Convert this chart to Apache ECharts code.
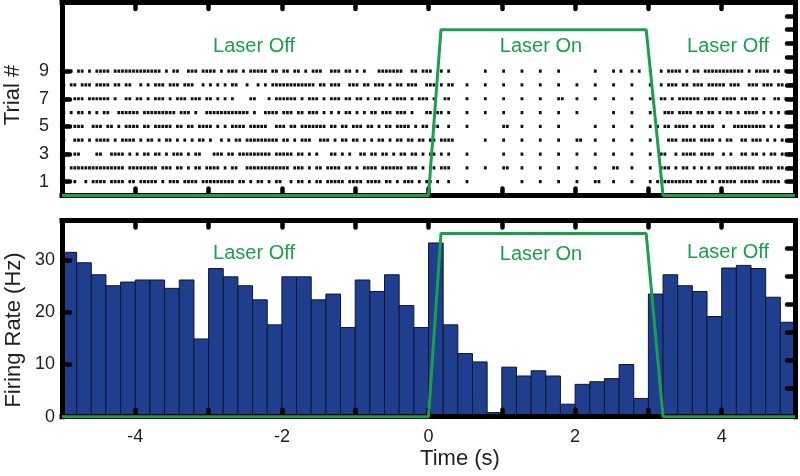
<!DOCTYPE html>
<html><head><meta charset="utf-8">
<script src="https://cdn.jsdelivr.net/npm/echarts@6/dist/echarts.min.js"></script>
<style>html,body{margin:0;padding:0;background:#fff}#c{width:800px;height:476px}</style>
</head><body><div id="c"></div>
<script>
// ---- Data ----
const binStarts = [-5,-4.8,-4.6,-4.4,-4.2,-4,-3.8,-3.6,-3.4,-3.2,-3,-2.8,-2.6,-2.4,-2.2,-2,-1.8,-1.6,-1.4,-1.2,-1,-0.8,-0.6,-0.4,-0.2,0,0.2,0.4,0.6,0.8,1,1.2,1.4,1.6,1.8,2,2.2,2.4,2.6,2.8,3,3.2,3.4,3.6,3.8,4,4.2,4.4,4.6,4.8];
const binWidth = 0.2;
const firingRate = [31.5,29.5,27.2,25.1,25.8,26.2,26.2,24.6,26.2,14.9,28.4,26.8,25.1,22.4,17.6,26.8,26.8,22.4,23.5,17.1,26.2,24.0,27.2,21.3,17.1,33.3,17.6,12.1,10.5,0.8,9.5,7.8,8.8,7.8,2.4,6.2,6.7,7.3,10.0,3.5,23.5,27.2,25.1,24.0,19.2,28.5,29.0,28.4,22.9,18.1];

const laserTimes = [-5, 0, 0.17, 2.97, 3.2, 5];
const laserRaster = [0, 0, 12, 12, 0, 0];
const laserRate = [0, 0, 35.1, 35.1, 0, 0];

const xTickLabels = [-4, -2, 0, 2, 4];
const trialTickLabels = [1, 3, 5, 7, 9];
const rateTickLabels = [0, 10, 20, 30];

// Raster: each trial = segments of a 0.05 s grid ('x' = spike) starting at these grid indices
const rasterStart = -5, rasterStep = 0.05;
const segmentStarts = [0, 40, 80, 105, 160];
const raster1 = ["xx-x--x-xxxx-xxxx-xx-xxxxx-x-xxx-xxxx-xx","xxxxxxx-xx-x-xx-x-xx--x-xx-x-xx-xxxxx-xx","xx-xxxx-xx-x-xxx-x-xx-x--","x----x--------------x----x----x----x----xx---x----x----","x-xxxxxxxxxx-xxx-x-xxxxx-xxxxx-xxxxx-xxx"];
const raster2 = ["x-xxxxxxxxxxxxxxx-xxxxxxxx-xxx-xx-x-xx-x","xxx-x-xx--xxxxxxxxxxxx-xxx-x-xx-xxxx-xx-","x-xxxx-xxxxxx-xxx-x-xx-xx","x----x----x----xx---x----x----x----x----x----xx---x----","x--xxx-x-xx-x-x-x-xx-xxxxxxxx-xxxx-xx-xx"];
const raster3 = ["xx-xx----xx--xxxx-x-x-xx-xx-x-xxx-x-xx--","-xxx-xx-xxxxxxxxx-xxxxx-xx-x-x---xx-x-x-","-xx-xx-xx-x-xx-xx-x-xx-x-","x----x---------x----x----x----x----x----x----x----x----","x--xx--x-xxxx-xxxx--x-x--xx-xx-x-xx-xxxx"];
const raster4 = ["x--xxx-x-xxxx-x-xxxx-x-xx-x-xx-x-x-x-xx-","x--x-x-xx-xxxxxxxxx-xx-x-xxx--xxx-x-xx-x","x-x-x-xx-x-xx-xx-xx-xx-xx","xx--------x----x----x----x----x----xx---x----x----x----","x----xxx-xxxx-xxxx-x-xx--xx-xxx-x-x-x-xx"];
const raster5 = ["xx-xxx--xxx-xx-x-xxxx-xx-xxxxx-xx-xx-xxx","x-x-x-xxxx-xxxxx--xxx-xx-xxxxxxx-xx-xx-x","xx-xx-x-xx-xxxx-x-xx-xx--","x----x---------xx---x----x----x---------x----x----x----","x-x-xx-xxxx-x-xxxx--x--xxxxxxxxx-x-x-xxx"];
const raster6 = ["x-x-xx-x-x-xx--xxxxxx-xxxxxxxxx-xxx-x--x","xxxxxxxxxxx-x--xxxx-xxx-xx-xxx-x-x-x-xx-","x-x-xx-xxx-xxx-x---xx-xx-","x----x----x----x----x----x----x----x---------x----x----","x---xxx-xxxx-xx-xx-x-xx-x-xxxx-x-x-x-x-x"];
const raster7 = ["xx-xxx-xxxxxx-x--xx-xx-x-xxx-x-xxx-xxx-x","x-x-x-x----xx---x-xxxxxx-x-xxx-x-xxx-xx-","xx-x-xx-x-xxxx-x-xxx-x--x","x----x----x----x----x----x----xx---x----x----x----x----","x--xx-x-xxxxxx-xxxx-xxxx-xx-xx-x--xx-x-x"];
const raster8 = ["x-xx-xxx-xxxx-xx-xx--x-x-xxx-xxx-xxx--x-","x-x-x-xx--x--x-x-xxxxxxxxxxxx-xx-xxx--xx","x-xx-xxx-x-xx-xxx--xxx-x-","xx---x----x----x----x----x----x----x----x----x----x----","x--x-xxx-xx-xxx-xxxxx-xxx--xxx-xxx-xx-xx"];
const raster9 = ["x-x-xx-x-xxxx-xxxxxxxxxxxxx-x-xx--xxx-xx","xx-x-xxx-x-xxxxx-xx-xx-xx-x-xxx--xxx-xx-","x-x---xxxxxxx--xx-xxx--x-","x---------x----x----x----x----x---------x----x-x--x-x--","x--x-xxxx-x-xx-xxxxxxxxxxx-x-xxxx-xx-xxx"];
const rasterTrials = [raster1, raster2, raster3, raster4, raster5, raster6, raster7, raster8, raster9];

// ---- Build series data ----
const spikes = [];
rasterTrials.forEach((segs, ti) => {
  segs.forEach((s, si) => {
    for (let j = 0; j < s.length; j++) {
      if (s[j] === 'x') {
        const idx = segmentStarts[si] + j;
        spikes.push([rasterStart + rasterStep * idx + rasterStep / 2, ti + 1]);
      }
    }
  });
});
const bars = binStarts.map((b, i) => [b, firingRate[i]]);

const FONT = "'Liberation Sans', Arial, Helvetica, sans-serif";
const GREEN = '#1c9f4d';
const chart = echarts.init(document.getElementById('c'), null, {renderer: 'canvas'});

function frameLine() { return {show: true, onZero: false, lineStyle: {color: '#000', width: 5, cap: 'square'}}; }

function xAx(gi, pos, labels) {
  return {
    type: 'value', gridIndex: gi, position: pos, min: -5, max: 5, interval: 1, z: 5,
    axisLine: frameLine(),
    axisTick: {show: true, inside: true, length: 7, lineStyle: {color: '#000', width: 4.5, cap: 'round'}},
    axisLabel: labels ? {show: true, customValues: xTickLabels, margin: 11, fontSize: 18, color: '#222', fontFamily: FONT} : {show: false},
    splitLine: {show: false}
  };
}
function yAx(gi, pos, max, interval, tickVals, labelVals, margin) {
  const ax = {
    type: 'value', gridIndex: gi, position: pos, min: 0, max: max, interval: interval, z: 5,
    axisLine: frameLine(),
    axisTick: {show: true, inside: true, length: 8, lineStyle: {color: '#000', width: 4.5, cap: 'round'}},
    axisLabel: labelVals ? {show: true, customValues: labelVals, margin: margin, fontSize: 18, color: '#222', fontFamily: FONT} : {show: false},
    splitLine: {show: false}
  };
  if (tickVals) ax.axisTick.customValues = tickVals;
  return ax;
}

const option = {
  animation: false,
  backgroundColor: '#fff',
  grid: [
    {left: 62, right: 5, top: 2, height: 193.5},
    {left: 62, right: 5, top: 220.5, height: 196.2}
  ],
  xAxis: [xAx(0, 'bottom', false), xAx(0, 'top', false), xAx(1, 'bottom', true), xAx(1, 'top', false)],
  yAxis: [
    yAx(0, 'left', 14, 1, trialTickLabels, trialTickLabels, 13),
    yAx(0, 'right', 14, 1, null, null, 0),
    yAx(1, 'left', 37.6, 10, [10, 20, 30], rateTickLabels, 7),
    yAx(1, 'right', 7, 1, null, null, 0)
  ],
  series: [
    {type: 'custom', xAxisIndex: 0, yAxisIndex: 0, z: 2, data: spikes, clip: true,
     renderItem: function (params, api) {
       const p = api.coord([api.value(0), api.value(1)]);
       return {type: 'rect', shape: {x: p[0] - 1.4, y: p[1] - 1.6, width: 2.8, height: 3.2}, style: {fill: '#111'}};
     }},
    {type: 'custom', xAxisIndex: 2, yAxisIndex: 2, z: 2, data: bars,
     renderItem: function (params, api) {
       const x0 = api.value(0), v = api.value(1);
       const p0 = api.coord([x0, 0]);
       const p1 = api.coord([x0 + binWidth, v]);
       return {type: 'rect', shape: {x: p0[0], y: p1[1], width: p1[0] - p0[0], height: p0[1] - p1[1]},
               style: {fill: '#1f3f8e', stroke: '#0c1834', lineWidth: 1}};
     }},
    {type: 'line', xAxisIndex: 0, yAxisIndex: 0, z: 6, clip: false, symbol: 'none',
     data: laserTimes.map((t, i) => [t, laserRaster[i]]),
     lineStyle: {color: GREEN, width: 3}},
    {type: 'line', xAxisIndex: 2, yAxisIndex: 2, z: 6, clip: false, symbol: 'none',
     data: laserTimes.map((t, i) => [t, laserRate[i]]),
     lineStyle: {color: GREEN, width: 3}}
  ],
  graphic: [
    {type: 'text', x: 254, y: 46, z: 10, style: {text: 'Laser Off', fill: GREEN, font: '20px ' + FONT, textAlign: 'center', textVerticalAlign: 'middle'}},
    {type: 'text', x: 541, y: 46, z: 10, style: {text: 'Laser On', fill: GREEN, font: '20px ' + FONT, textAlign: 'center', textVerticalAlign: 'middle'}},
    {type: 'text', x: 728, y: 46, z: 10, style: {text: 'Laser Off', fill: GREEN, font: '20px ' + FONT, textAlign: 'center', textVerticalAlign: 'middle'}},
    {type: 'text', x: 254, y: 253, z: 10, style: {text: 'Laser Off', fill: GREEN, font: '20px ' + FONT, textAlign: 'center', textVerticalAlign: 'middle'}},
    {type: 'text', x: 541, y: 254, z: 10, style: {text: 'Laser On', fill: GREEN, font: '20px ' + FONT, textAlign: 'center', textVerticalAlign: 'middle'}},
    {type: 'text', x: 728, y: 252, z: 10, style: {text: 'Laser Off', fill: GREEN, font: '20px ' + FONT, textAlign: 'center', textVerticalAlign: 'middle'}},
    {type: 'text', x: 13, y: 95, rotation: Math.PI / 2, z: 10, style: {text: 'Trial #', fill: '#222', font: '22px ' + FONT, textAlign: 'center', textVerticalAlign: 'middle'}},
    {type: 'text', x: 14, y: 330, rotation: Math.PI / 2, z: 10, style: {text: 'Firing Rate (Hz)', fill: '#222', font: '22px ' + FONT, textAlign: 'center', textVerticalAlign: 'middle'}},
    {type: 'text', x: 460, y: 459, z: 10, style: {text: 'Time (s)', fill: '#222', font: '22px ' + FONT, textAlign: 'center', textVerticalAlign: 'middle'}}
  ]
};
chart.setOption(option);
</script>
</body></html>
